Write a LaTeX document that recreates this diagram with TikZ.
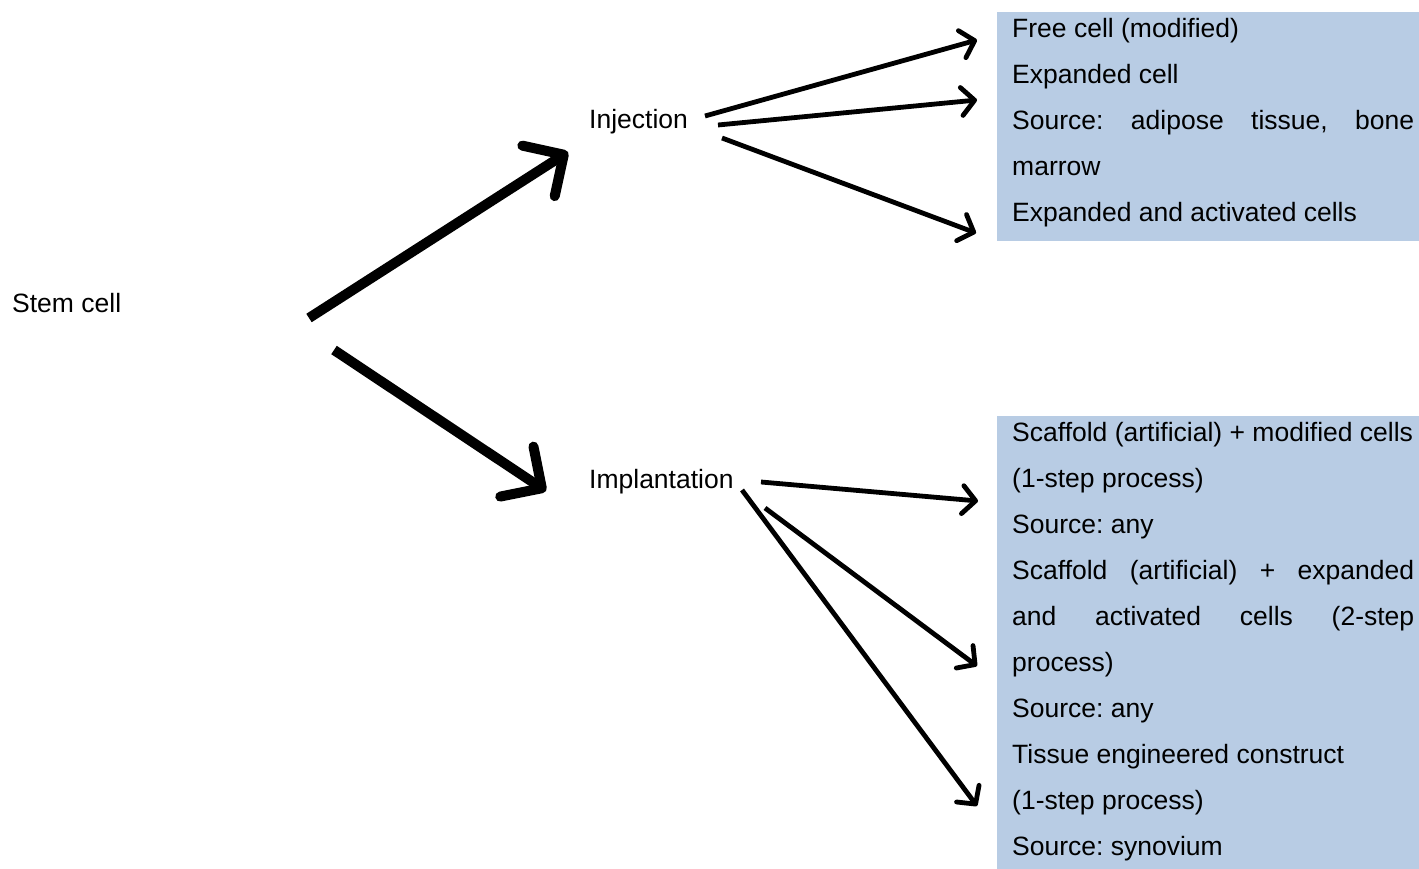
\documentclass[tikz,border=0pt]{standalone}
\usepackage{fontspec}
\setmainfont{Liberation Sans}
\usetikzlibrary{arrows.meta}
\definecolor{boxblue}{RGB}{184,204,228}
\tikzset{
  lbl/.style={anchor=base west, inner sep=0pt, font=\fontsize{26.5pt}{46pt}\selectfont\frenchspacing},
  thinarrow/.style={line width=4.8pt, -{Straight Barb[length=13pt,width=28pt,line cap=round,line join=round]}},
  thickarrow/.style={line width=10pt, -{Straight Barb[length=30pt,width=60pt,line cap=round,line join=round]}},
  bluebox/.style={fill=boxblue, draw=none}
}
\newcommand{\jline}[1]{\makebox[402pt][s]{#1}}
\frenchspacing
\begin{document}
\begin{tikzpicture}[x=1pt,y=-1pt]
\useasboundingbox (0,0) rectangle (1419,869);
% boxes
\fill[bluebox] (997,12) rectangle (1419,241);
\fill[bluebox] (997,416) rectangle (1419,869);
% labels
\node[lbl] (stem) at (12,312) {Stem cell};
\node[lbl] (inj) at (589,128.3) {Injection};
\node[lbl] (imp) at (589,488) {Implantation};
% upper box lines
\node[lbl] (a1) at (1012,37.5) {Free cell (modified)};
\node[lbl] (a2) at (1012,83.5) {Expanded cell};
\node[lbl] (a3) at (1012,129.5) {\jline{Source: adipose tissue, bone}};
\node[lbl] (a4) at (1012,175.5) {marrow};
\node[lbl] (a5) at (1012,221.5) {Expanded and activated cells};
% lower box lines
\node[lbl] (b1) at (1012,441.5) {Scaffold (artificial) + modified cells};
\node[lbl] (b2) at (1012,487.5) {(1-step process)};
\node[lbl] (b3) at (1012,533.5) {Source: any};
\node[lbl] (b4) at (1012,579.5) {\jline{Scaffold (artificial) + expanded}};
\node[lbl] (b5) at (1012,625.5) {\jline{and activated cells (2-step}};
\node[lbl] (b6) at (1012,671.5) {process)};
\node[lbl] (b7) at (1012,717.5) {Source: any};
\node[lbl] (b8) at (1012,763.5) {Tissue engineered construct};
\node[lbl] (b9) at (1012,809.5) {(1-step process)};
\node[lbl] (b10) at (1012,855.5) {Source: synovium};
% connector end points
\coordinate (s1) at (309,318);
\coordinate (t1) at (568,152);
\coordinate (s2) at (334,350);
\coordinate (t2) at (546,491);
\coordinate (i1s) at (705,116);
\coordinate (i1t) at (977,40);
\coordinate (i2s) at (718,125);
\coordinate (i2t) at (977,100);
\coordinate (i3s) at (722,138);
\coordinate (i3t) at (976,233);
\coordinate (p1s) at (761,482);
\coordinate (p1t) at (978,501);
\coordinate (p2s) at (765,508);
\coordinate (p2t) at (977,666);
\coordinate (p3s) at (742,490);
\coordinate (p3t) at (977,806);
% arrows
\draw[thickarrow] (s1) -- (t1);
\draw[thickarrow] (s2) -- (t2);
\draw[thinarrow] (i1s) -- (i1t);
\draw[thinarrow] (i2s) -- (i2t);
\draw[thinarrow] (i3s) -- (i3t);
\draw[thinarrow] (p1s) -- (p1t);
\draw[thinarrow] (p2s) -- (p2t);
\draw[thinarrow] (p3s) -- (p3t);
\end{tikzpicture}
\end{document}
